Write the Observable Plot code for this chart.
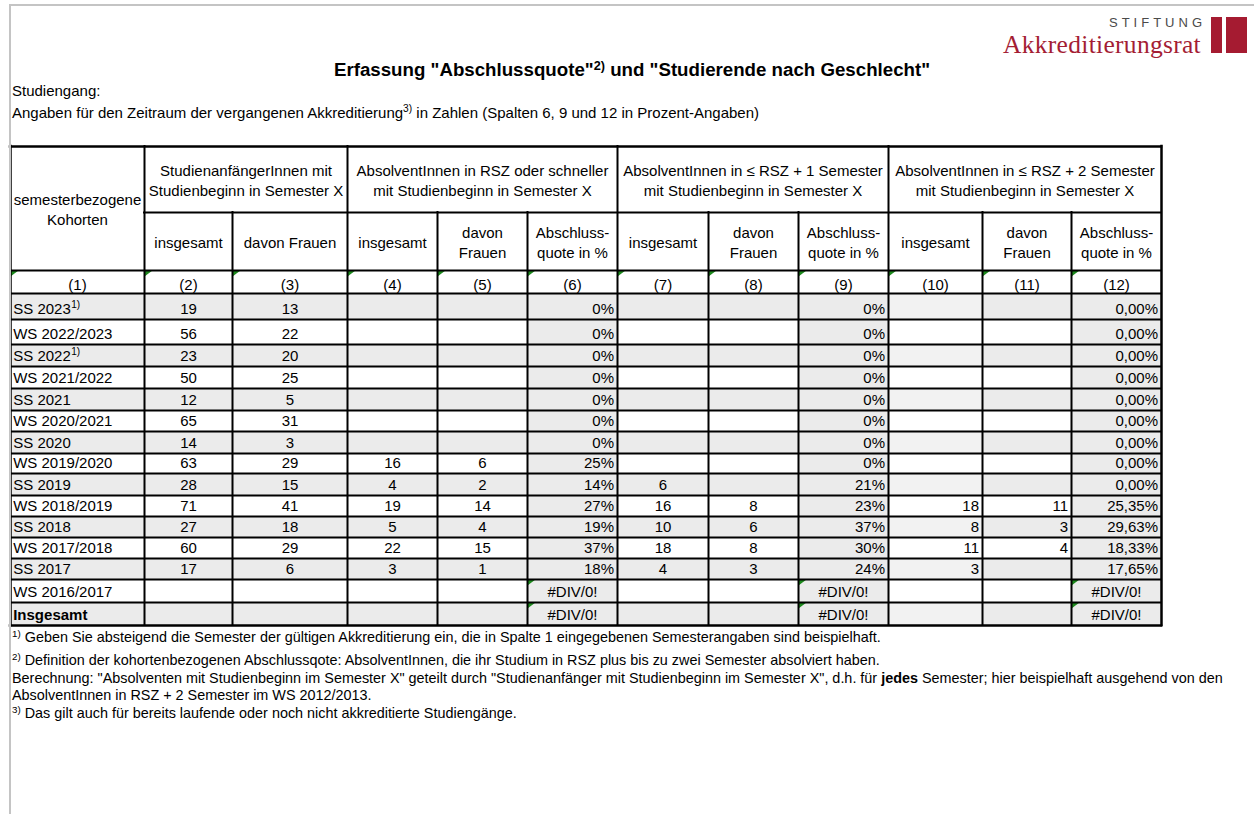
<!DOCTYPE html>
<html><head><meta charset="utf-8">
<script src="https://cdn.jsdelivr.net/npm/d3@7"></script>
<script src="https://cdn.jsdelivr.net/npm/@observablehq/plot@0.6"></script>
<style>
html,body{margin:0;padding:0;background:#fff;}
#page{position:relative;width:1254px;height:814px;overflow:hidden;font-family:"Liberation Sans",Arial,sans-serif;color:#000;}
#chart{position:absolute;left:0;top:0;}
.t{position:absolute;white-space:nowrap;}
.frame-top{position:absolute;left:10px;top:4px;width:1244px;height:2px;background:#c4c4c4;}
.frame-left{position:absolute;left:9px;top:4px;width:2px;height:810px;background:#c4c4c4;}
#title{left:632px;top:61px;transform:translateX(-50%);font-weight:bold;font-size:18.7px;line-height:18.7px;}
.sup{font-size:68%;position:relative;top:-0.5em;}
.line{font-size:15px;line-height:15px;left:12px;}
.note{font-size:14.4px;line-height:14.4px;left:12px;}
#stiftung{left:1109px;top:17.4px;font-size:13px;line-height:11px;letter-spacing:4px;color:#4a4a4a;}
#akk{left:1003px;top:33.9px;font-family:"Liberation Serif",serif;font-size:25.5px;line-height:22px;letter-spacing:0.3px;color:#a41d34;}
.bar{position:absolute;background:#a51b31;top:17px;height:36px;}
</style></head>
<body><div id="page">
<div id="chart"></div>
<div class="frame-top"></div><div class="frame-left"></div>
<div class="t" id="stiftung">STIFTUNG</div>
<div class="t" id="akk">Akkreditierungsrat</div>
<div class="bar" style="left:1211px;width:11px"></div>
<div class="bar" style="left:1226px;width:21px"></div>
<div class="t" id="title">Erfassung "Abschlussquote"<span class="sup">2)</span> und "Studierende nach Geschlecht"</div>
<div class="t line" style="top:82.5px">Studiengang:</div>
<div class="t line" style="top:104.5px">Angaben für den Zeitraum der vergangenen Akkreditierung<span class="sup">3)</span> in Zahlen (Spalten 6, 9 und 12 in Prozent-Angaben)</div>
<div class="t note" style="top:629.8px"><span class="sup">1)</span> Geben Sie absteigend die Semester der gültigen Akkreditierung ein, die in Spalte 1 eingegebenen Semesterangaben sind beispielhaft.</div>
<div class="t note" style="top:652.8px"><span class="sup">2)</span> Definition der kohortenbezogenen Abschlussqote: AbsolventInnen, die ihr Studium in RSZ plus bis zu zwei Semester absolviert haben.</div>
<div class="t note" style="top:670.8px">Berechnung: "Absolventen mit Studienbeginn im Semester X" geteilt durch "Studienanfänger mit Studienbeginn im Semester X", d.h. für <b>jedes</b> Semester; hier beispielhaft ausgehend von den</div>
<div class="t note" style="top:687.8px">AbsolventInnen in RSZ + 2 Semester im WS 2012/2013.</div>
<div class="t note" style="top:705.8px"><span class="sup">3)</span> Das gilt auch für bereits laufende oder noch nicht akkreditierte Studiengänge.</div>
</div>
<script>
// ---------------- data ----------------
const cohorts = ["SS 2023","WS 2022/2023","SS 2022","WS 2021/2022","SS 2021","WS 2020/2021","SS 2020","WS 2019/2020","SS 2019","WS 2018/2019","SS 2018","WS 2017/2018","SS 2017","WS 2016/2017","Insgesamt"];
const cohortNotes = ["1)","","1)","","","","","","","","","","","",""];
const anfGesamt  = [19,56,23,50,12,65,14,63,28,71,27,60,17,null,null];
const anfFrauen  = [13,22,20,25,5,31,3,29,15,41,18,29,6,null,null];
const rszGesamt  = [null,null,null,null,null,null,null,16,4,19,5,22,3,null,null];
const rszFrauen  = [null,null,null,null,null,null,null,6,2,14,4,15,1,null,null];
const rszQuote   = [0,0,0,0,0,0,0,25,14,27,19,37,18,null,null];
const rsz1Gesamt = [null,null,null,null,null,null,null,null,6,16,10,18,4,null,null];
const rsz1Frauen = [null,null,null,null,null,null,null,null,null,8,6,8,3,null,null];
const rsz1Quote  = [0,0,0,0,0,0,0,0,21,23,37,30,24,null,null];
const rsz2Gesamt = [null,null,null,null,null,null,null,null,null,18,8,11,3,null,null];
const rsz2Frauen = [null,null,null,null,null,null,null,null,null,11,3,4,null,null,null];
const rsz2Quote  = [0,0,0,0,0,0,0,0,0,25.35,29.63,18.33,17.65,null,null];
const groupHeaders = ["semesterbezogene\nKohorten","StudienanfängerInnen mit\nStudienbeginn in Semester X","AbsolventInnen in RSZ oder schneller\nmit Studienbeginn in Semester X","AbsolventInnen in ≤ RSZ + 1 Semester\nmit Studienbeginn in Semester X","AbsolventInnen in ≤ RSZ + 2 Semester\nmit Studienbeginn in Semester X"];
const subHeaders = ["insgesamt","davon Frauen","insgesamt","davon\nFrauen","Abschluss-\nquote in %","insgesamt","davon\nFrauen","Abschluss-\nquote in %","insgesamt","davon\nFrauen","Abschluss-\nquote in %"];
const columnNumbers = ["(1)","(2)","(3)","(4)","(5)","(6)","(7)","(8)","(9)","(10)","(11)","(12)"];
const divError = "#DIV/0!";

// ---------------- layout ----------------
const W = 1254, H = 814;
const tableLeft = 10;
const colWidths = [134, 88, 115, 90, 90, 90, 91, 90, 90, 94, 89, 90];
const headerEdges = [146, 212, 270, 293];
const rowHeights = [26,25,22,22,22,21,22,20,22,21,21,21,21,23,23];
const groupSpans = [[0,1],[1,3],[3,6],[6,9],[9,12]];
const GRAY = "#ebebeb", LIGHT = "#f2f2f2", WHITE = "#ffffff", GREEN = "#1d8a1d";
const FS = 15, PADL = 2.7, PADR = 3.5, BASE = 10;
const TRI_W = 8, TRI_H = 6;

const colEdges = Array.from(d3.cumsum([tableLeft, ...colWidths]));
const rowEdges = Array.from(d3.cumsum([headerEdges[3], ...rowHeights]));
const tableRight = colEdges[colEdges.length - 1];
const tableBottom = rowEdges[rowEdges.length - 1];

const fmt0 = v => d3.format(".0f")(v) + "%";
const fmt2 = v => d3.format(".2f")(v).replace(".", ",") + "%";
const columns = [
  {values: cohorts, align: "start"},
  {values: anfGesamt, align: "middle"},
  {values: anfFrauen, align: "middle"},
  {values: rszGesamt, align: "middle"},
  {values: rszFrauen, align: "middle"},
  {values: rszQuote, align: "end", fmt: fmt0},
  {values: rsz1Gesamt, align: "middle"},
  {values: rsz1Frauen, align: "middle"},
  {values: rsz1Quote, align: "end", fmt: fmt0},
  {values: rsz2Gesamt, align: "end"},
  {values: rsz2Frauen, align: "end"},
  {values: rsz2Quote, align: "end", fmt: fmt2}
];

const last = cohorts.length - 1;
const cells = [];
cohorts.forEach((c, i) => columns.forEach((col, j) => {
  const v = col.values[i];
  let text = "", align = col.align, err = false;
  if (col.fmt) { if (v == null) { text = divError; align = "middle"; err = true; } else text = col.fmt(v); }
  else if (v != null) text = String(v);
  const shaded = c.startsWith("SS") || i === last;
  const fill = col.fmt ? GRAY : shaded ? (j === 9 ? LIGHT : GRAY) : WHITE;
  const x1 = colEdges[j], x2 = colEdges[j + 1], y1 = rowEdges[i], y2 = rowEdges[i + 1];
  const x = align === "start" ? x1 + PADL : align === "end" ? x2 - PADR : (x1 + x2) / 2;
  cells.push({x1, x2, y1, y2, fill, text, align, x, y: y2 - BASE, bold: i === last && j === 0, err, note: j === 0 ? cohortNotes[i] : ""});
}));

// superscript notes after cohort labels, placed by measured text width
const ctx = document.createElement("canvas").getContext("2d");
ctx.font = `${FS}px "Liberation Sans"`;
const notes = cells.filter(d => d.note).map(d => ({text: d.note, x: d.x + ctx.measureText(d.text).width + 0.5, y: d.y - 5}));

// header texts
const headerTexts = [];
groupSpans.forEach(([a, b], g) => {
  const full = g === 0;
  headerTexts.push({text: groupHeaders[g], x: (colEdges[a] + colEdges[b]) / 2,
    y: full ? (headerEdges[0] + headerEdges[2]) / 2 : (headerEdges[0] + headerEdges[1]) / 2});
});
subHeaders.forEach((s, k) => headerTexts.push({text: s, x: (colEdges[k + 1] + colEdges[k + 2]) / 2, y: (headerEdges[1] + headerEdges[2]) / 2}));
columnNumbers.forEach((s, k) => headerTexts.push({text: s, x: (colEdges[k] + colEdges[k + 1]) / 2, y: headerEdges[3] - BASE}));

// green error-indicator triangles
const triCorners = [
  ...columnNumbers.map((s, k) => ({x: colEdges[k], y: headerEdges[2]})),
  ...cells.filter(d => d.err).map(d => ({x: d.x1, y: d.y1}))
];
const triangles = triCorners.flatMap((p, id) => [
  {id, x: p.x, y: p.y}, {id, x: p.x + TRI_W, y: p.y}, {id, x: p.x, y: p.y + TRI_H}, {id, x: p.x, y: p.y}
]);

// borders
const groupEdgeIdx = new Set([0, 1, 3, 6, 9, 12]);
const vSegs = colEdges.map((x, k) => ({
  x, y1: groupEdgeIdx.has(k) ? headerEdges[0] : headerEdges[1], y2: tableBottom,
  w: (k === 0 || k === colEdges.length - 1) ? 2.5 : 2
}));
const hSegs = [
  {y: headerEdges[0], x1: tableLeft, x2: tableRight, w: 2.5},
  {y: headerEdges[1], x1: colEdges[1], x2: tableRight, w: 2},
  {y: headerEdges[2], x1: tableLeft, x2: tableRight, w: 2},
  ...rowEdges.map((y, k) => ({y, x1: tableLeft, x2: tableRight, w: k === rowEdges.length - 1 ? 2.5 : 2}))
];

const font = "Liberation Sans, Arial, sans-serif";
const chart = Plot.plot({
  width: W, height: H,
  margin: 0,
  x: {domain: [0, W], range: [0, W], axis: null},
  y: {domain: [0, H], range: [0, H], axis: null},
  color: {type: "identity"},
  style: {fontFamily: font, background: "transparent", color: "#000"},
  marks: [
    Plot.rect(cells, {x1: "x1", x2: "x2", y1: "y1", y2: "y2", fill: "fill"}),
    Plot.line(triangles, {x: "x", y: "y", z: "id", fill: GREEN, stroke: "none"}),
    Plot.ruleX(vSegs, {x: "x", y1: "y1", y2: "y2", strokeWidth: "w", stroke: "#000", strokeLinecap: "square"}),
    Plot.ruleY(hSegs, {y: "y", x1: "x1", x2: "x2", strokeWidth: "w", stroke: "#000", strokeLinecap: "square"}),
    Plot.text(headerTexts, {x: "x", y: "y", text: "text", fontSize: FS, lineHeight: 1.33, fill: "#000"}),
    Plot.text(cells.filter(d => d.align === "start" && !d.bold), {x: "x", y: "y", text: "text", textAnchor: "start", fontSize: FS, fill: "#000"}),
    Plot.text(cells.filter(d => d.bold), {x: "x", y: "y", text: "text", textAnchor: "start", fontSize: FS, fontWeight: "bold", fill: "#000"}),
    Plot.text(cells.filter(d => d.align === "middle"), {x: "x", y: "y", text: "text", textAnchor: "middle", fontSize: FS, fill: "#000"}),
    Plot.text(cells.filter(d => d.align === "end"), {x: "x", y: "y", text: "text", textAnchor: "end", fontSize: FS, fill: "#000"}),
    Plot.text(notes, {x: "x", y: "y", text: "text", textAnchor: "start", fontSize: 10, fill: "#000"})
  ]
});
document.getElementById("chart").appendChild(chart);
</script>
</body></html>
